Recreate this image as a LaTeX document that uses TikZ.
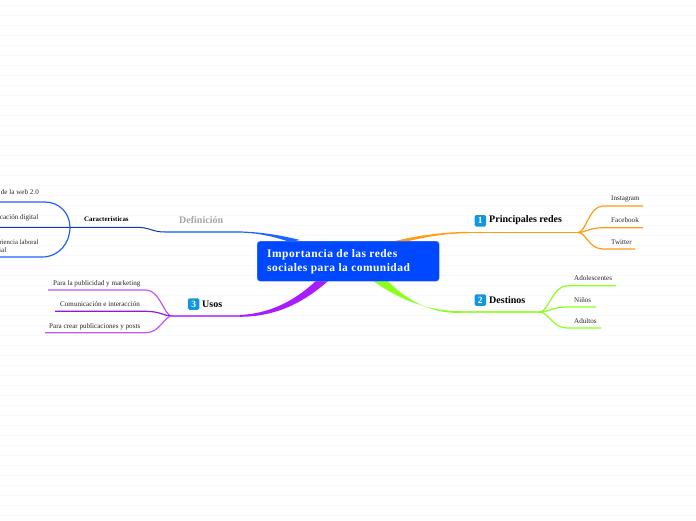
\documentclass[tikz,border=0pt]{standalone}
\usepackage{fontspec}
\setmainfont{Liberation Serif}
\newfontfamily\spacedb[LetterSpace=4]{Liberation Serif Bold}
\usetikzlibrary{calc}
\definecolor{cOrange}{HTML}{FF9C12}
\definecolor{cGreen}{HTML}{8CFF1E}
\definecolor{cPurple}{HTML}{A81CFF}
\definecolor{cBlue}{HTML}{1E62FF}
\definecolor{cCore}{HTML}{0048FF}
\definecolor{cBadge}{HTML}{1296E0}
\tikzset{
  x=1pt,y=-1pt,
  leaf/.style={inner sep=0pt,anchor=west,font=\fontsize{7.1}{8.5}\selectfont,text=black!85},
  mainlabel/.style={inner sep=0pt,anchor=west,font=\bfseries\fontsize{10}{12}\selectfont},
  badge/.style={fill=cBadge,rounded corners=1.5pt,minimum size=11.5pt,inner sep=0pt,text=white,font=\bfseries\fontsize{9.5}{10}\selectfont},
  core/.style={fill=cCore,draw=cCore!60,line width=.4pt,rounded corners=3pt,minimum width=182pt,minimum height=40pt,inner sep=0pt},
  twig/.style={line width=1.2pt},
}
% twig: colour, junction, side (+1 right / -1 left), near end, far end
\newcommand{\twig}[5]{\draw[#1,twig] (#2) .. controls ($(#2)+(#3*8,0)$) and ($(#4)+(#3*-14,0)$) .. (#4) -- (#5);}
\begin{document}
\begin{tikzpicture}
\useasboundingbox (0,0) rectangle (696,520);
\clip (0,0) rectangle (696,520);
\fill[white] (0,0) rectangle (696,520);
\foreach \yy in {5,15,...,515}{\draw[black!2.5,line width=.7pt] (0,\yy) -- (696,\yy);}

% named points
\coordinate (j1a) at (470,232.5);
\coordinate (j1) at (578,232.5);
\coordinate (j2a) at (460,312);
\coordinate (j2) at (540,312);
\coordinate (j3a) at (240,316);
\coordinate (j3) at (172,316);
\coordinate (j4a) at (240,232);
\coordinate (j4) at (165,232);
\coordinate (c0) at (137,227.3);
\coordinate (c1) at (70,227.3);
\coordinate (e1s) at (603,206);\coordinate (e1) at (643,206);
\coordinate (e2s) at (603,227.7);\coordinate (e2) at (643,227.7);
\coordinate (e3s) at (603,249);\coordinate (e3) at (635,249);
\coordinate (e4s) at (567,285.7);\coordinate (e4) at (616,285.7);
\coordinate (e5s) at (567,307);\coordinate (e5) at (596,307);
\coordinate (e6s) at (567,328);\coordinate (e6) at (601,328);
\coordinate (e7s) at (146,290);\coordinate (e7) at (48,290);
\coordinate (e8s) at (146,311.3);\coordinate (e8) at (55,311.3);
\coordinate (e9s) at (146,332.7);\coordinate (e9) at (45,332.7);
\coordinate (b0) at (0,227.3);
\coordinate (b1) at (0,202);
\coordinate (b2) at (0,257);

% main branches (tapered)
\fill[cOrange] (395,241) .. controls (420,235) and (445,232) .. (470,231.8) -- (470,233.2) .. controls (445,233.2) and (425,237) .. (405,242) -- cycle;
\draw[cOrange,line width=1.3pt] (j1a) -- (j1);
\fill[cGreen] (362,272) .. controls (385,292) and (420,311) .. (460,311.2) -- (460,312.8) .. controls (432,314) and (405,300) .. (385,278) -- cycle;
\draw[cGreen!85,line width=1.6pt] (j2a) -- (j2);
\fill[cPurple] (325,272) .. controls (303,295) and (277,313) .. (240,315) -- (240,316.8) .. controls (283,316.5) and (312,297) .. (338,272) -- cycle;
\draw[cPurple!75,line width=1.6pt] (j3a) -- (j3);
\fill[cBlue] (240,231.4) .. controls (260,232) and (280,235) .. (300,240) -- (290,242) .. controls (275,237) and (260,233) .. (240,232.6) -- cycle;
\draw[cBlue!70,line width=1.6pt] (j4a) -- (j4);

% twigs
\twig{cOrange}{j1}{1}{e1s}{e1}
\twig{cOrange}{j1}{1}{e2s}{e2}
\twig{cOrange}{j1}{1}{e3s}{e3}
\twig{cGreen}{j2}{1}{e4s}{e4}
\twig{cGreen}{j2}{1}{e5s}{e5}
\twig{cGreen}{j2}{1}{e6s}{e6}
\twig{cPurple!75}{j3}{-1}{e7s}{e7}
\twig{cPurple!85!black}{j3}{-1}{e8s}{e8}
\twig{cPurple!75}{j3}{-1}{e9s}{e9}

% Definición sub-branches
\draw[cBlue!60!black,line width=1pt] (j4) .. controls (152,232) and (150,227.3) .. (c0) -- (c1) -- (b0);
\draw[cBlue,line width=1.2pt] (b1) -- (45,202) .. controls (59,202) and (70,213) .. (c1) .. controls (70,243) and (59,257) .. (42,257) -- (b2);

% centre
\node[core,anchor=north west] (core) at (257,241) {};
\node[anchor=north west,inner sep=0pt,align=left,text=white,font=\spacedb\fontsize{11.5}{14}\selectfont] (title) at (267,249) {Importancia de las redes\\sociales para la comunidad};

% main labels
\node[badge] (b1n) at (480.3,220.8) {1};
\node[mainlabel] (l1) at (489,220.5) {Principales redes};
\node[badge] (b2n) at (480.3,300) {2};
\node[mainlabel] (l2) at (489,300.5) {Destinos};
\node[badge] (b3n) at (193.7,304) {3};
\node[mainlabel] (l3) at (202,304.5) {Usos};
\node[mainlabel,text=black!35] (l4) at (179,220.5) {Definición};
\node[inner sep=0pt,anchor=west,font=\bfseries\fontsize{6.9}{8}\selectfont] (l5) at (84,219.5) {Características};

% leaf labels
\node[leaf] (n1) at (611,199.3) {Instagram};
\node[leaf] (n2) at (611,219.8) {Facebook};
\node[leaf] (n3) at (611,241.8) {Twitter};
\node[leaf] (n4) at (574,277.8) {Adolescentes};
\node[leaf] (n5) at (574,300.3) {Niños};
\node[leaf] (n6) at (574,320.8) {Adultos};
\node[leaf] (n7) at (53,283.3) {Para la publicidad y marketing};
\node[leaf] (n8) at (60,304.3) {Comunicación e interacción};
\node[leaf] (n9) at (49,326.3) {Para crear publicaciones y posts};
\node[leaf,anchor=east] (n10) at (39,192.3) {de la web 2.0};
\node[leaf,anchor=east] (n11) at (38.5,217.8) {cación digital};
\node[leaf,anchor=east,font=\fontsize{6.8}{8.5}\selectfont] (n12) at (38.8,241.8) {riencia laboral};
\node[leaf,anchor=east] (n13) at (6.5,250.3) {ial};
\end{tikzpicture}
\end{document}
